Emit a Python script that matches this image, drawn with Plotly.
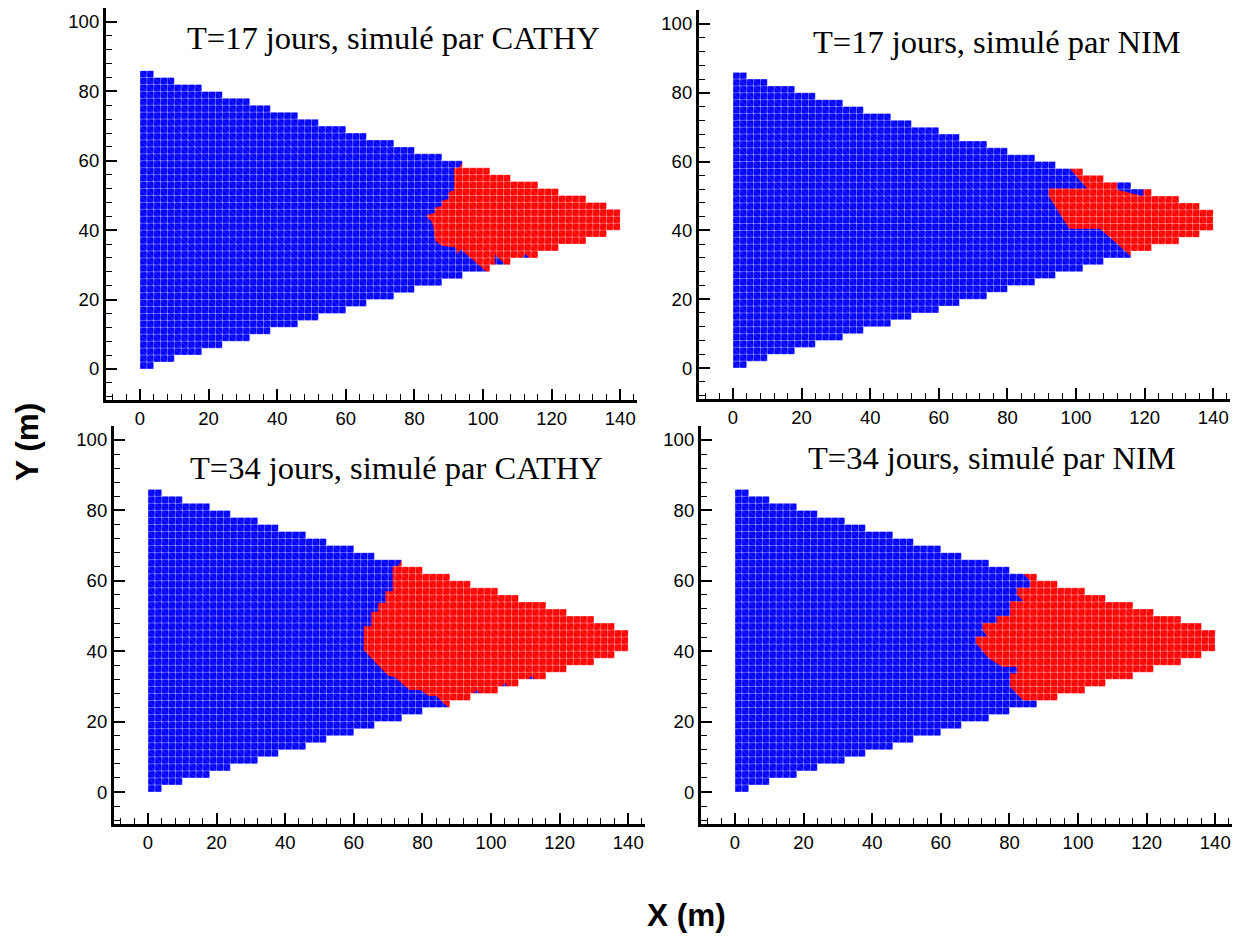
import plotly.graph_objects as go

# ---------------- data ----------------
# stepped triangular mesh (2 m cells): column edges and top / bottom levels
step_x = [0, 4, 10, 18, 24, 32, 38, 46, 52, 60, 66, 74, 80, 88, 94, 102, 108, 116, 122, 130, 136, 140]
top_y = [86, 84, 82, 80, 78, 76, 74, 72, 70, 68, 66, 64, 62, 60, 58, 56, 54, 52, 50, 48, 46]
bottom_y = [0, 2, 4, 6, 8, 10, 12, 14, 16, 18, 20, 22, 24, 26, 28, 30, 32, 34, 36, 38, 40]
cell = 2

titles = ["T=17 jours, simulé par CATHY", "T=17 jours, simulé par NIM",
          "T=34 jours, simulé par CATHY", "T=34 jours, simulé par NIM"]

# left edge (front) of the red zone, read from top to bottom
front_x = [
    [94.5, 94, 93, 91.5, 91.5, 90, 90, 88, 88, 86, 86, 84, 83.5, 85, 85.5, 86, 88, 92, 92.5, 93.5, 101, 101],
    [97.5, 98.2, 103.2, 92, 92, 98, 107, 116, 116],
    [74.5, 74, 73, 71.3, 71.3, 69.2, 69.2, 67.1, 67.1, 65.1, 65.1, 62.9, 62.9, 70, 72, 76.2, 79.5, 81.8, 84, 87.5, 87.5],
    [84.1, 84.1, 86, 86, 82.2, 82.2, 84, 80.2, 80.2, 76.3, 76.3, 72.2, 72.2, 73.5, 70.2, 70.2, 74, 77.9, 82.2, 82.2, 80.2, 80.2, 84, 88, 88],
]
front_y = [
    [62, 59.5, 58, 58, 51.5, 51, 49, 48.5, 47, 46.5, 45, 44.5, 44, 42.5, 41, 37, 35.5, 35, 33, 34.5, 28, 15],
    [61, 58, 52.2, 52.2, 50, 40.5, 40.5, 32.5, 15],
    [68, 66, 64.3, 64.1, 57, 57, 53.7, 53.7, 51.2, 51.2, 47.1, 47.1, 40.3, 33, 32.6, 29, 29, 27.3, 27.3, 24, 15],
    [65, 62, 60, 58, 58, 56.1, 54.2, 54.2, 50, 50, 48, 48, 46.1, 44.2, 44.2, 42.3, 38, 35.6, 35.6, 33.7, 33.7, 29.9, 26, 26, 15],
]
# small blue pockets left inside the red zone
pocket_x = [
    [[103.5, 103.5, 106.5], [111.5, 112.4, 113.4]],
    [[112, 112, 119.6, 119.6]],
    [[95, 95.8, 96.6], [103.2, 104, 104.8], [111, 111.8, 112.6]],
    [],
]
pocket_y = [
    [[33, 30, 30], [32, 33.2, 32]],
    [[56, 51.8, 49.9, 56]],
    [[28, 29.1, 28], [30, 31, 30], [32, 33, 32]],
    [],
]

# ---------------- layout ----------------
xr = [-10, 145]
yr = [-9, 104]
W, H = 1250, 938
OFF = 8  # page body margin
# pixel boxes of each panel in the screenshot (left, right, top, bottom)
boxes = [(105.7, 637.4, 8.1, 400.2), (698.7, 1230.4, 10.2, 399.0),
         (113.7, 645.4, 425.9, 823.7), (700.7, 1232.4, 425.9, 823.7)]
title_pos = [(73.9, 95.4), (77.0, 94.8), (72.3, 92.1), (74.8, 94.9)]

BLUE = "#0000ff"
RED = "#ff0000"


def staircase(levels):
    px, py = [], []
    for k, lv in enumerate(levels):
        px += [step_x[k], step_x[k + 1]]
        py += [lv, lv]
    return px, py


def mesh_lines():
    gx, gy, dx, dy = [], [], [], []
    xmax, ymax = step_x[-1], top_y[0]
    for i in range(0, xmax + 1, cell):
        gx += [i, i, None]
        gy += [0, ymax, None]
    for j in range(0, ymax + 1, cell):
        gx += [0, xmax, None]
        gy += [j, j, None]
    for c in range(cell, xmax + ymax, cell):
        x0 = max(0, c - ymax)
        x1 = min(xmax, c)
        dx += [x0, x1, None]
        dy += [c - x0, c - x1, None]
    return gx, gy, dx, dy


fig = go.Figure()
gx, gy, dx, dy = mesh_lines()
tx, ty = staircase(top_y)
bx, by = staircase(bottom_y)
xend = step_x[-1]

for p in range(4):
    xa = "x" if p == 0 else f"x{p + 1}"
    ya = "y" if p == 0 else f"y{p + 1}"
    common = dict(xaxis=xa, yaxis=ya, hoverinfo="skip", showlegend=False)
    # blue domain
    fig.add_trace(go.Scatter(x=[0, xend, xend, 0], y=[0, 0, top_y[0], top_y[0]],
                             fill="toself", fillcolor=BLUE, mode="lines",
                             line=dict(width=0, color=BLUE), **common))
    # red zone (closed on the right just past the domain end)
    fxs = front_x[p] + [xend + 1.5, xend + 1.5]
    fys = front_y[p] + [front_y[p][-1], front_y[p][0]]
    fig.add_trace(go.Scatter(x=fxs, y=fys, fill="toself", fillcolor=RED, mode="lines",
                             line=dict(width=0, color=RED), **common))
    for kx, ky in zip(pocket_x[p], pocket_y[p]):
        fig.add_trace(go.Scatter(x=kx, y=ky, fill="toself", fillcolor=BLUE, mode="lines",
                                 line=dict(width=0, color=BLUE), **common))
    # mesh
    fig.add_trace(go.Scatter(x=gx, y=gy, mode="lines",
                             line=dict(width=1, color="rgba(255,255,255,0.38)"), **common))
    fig.add_trace(go.Scatter(x=dx, y=dy, mode="lines",
                             line=dict(width=0.8, color="rgba(255,255,255,0.22)"), **common))
    # white masks outside the stepped domain (overlapping on the right)
    fig.add_trace(go.Scatter(x=tx + [xend, 150, 150, 0],
                             y=ty + [41, 41, 120, 120],
                             fill="toself", fillcolor="white", mode="lines",
                             line=dict(width=0, color="white"), **common))
    fig.add_trace(go.Scatter(x=bx + [xend, 150, 150, 0],
                             y=by + [45, 45, -20, -20],
                             fill="toself", fillcolor="white", mode="lines",
                             line=dict(width=0, color="white"), **common))

axis_common = dict(showline=True, linecolor="black", linewidth=2.6, mirror=False,
                   showgrid=False, zeroline=False, ticks="inside", ticklen=11,
                   tickwidth=2.4, tickcolor="black", dtick=20, tick0=0,
                   minor=dict(dtick=4, tick0=0, ticks="inside", ticklen=6,
                              tickwidth=1.4, tickcolor="black", showgrid=False),
                   tickfont=dict(family="Liberation Sans, Arial", size=18.5, color="black"))

layout = dict(width=W, height=H, margin=dict(l=0, r=0, t=0, b=0),
              paper_bgcolor="white", plot_bgcolor="white", annotations=[])
for p, (l, r, t, b) in enumerate(boxes):
    sx = "" if p == 0 else str(p + 1)
    l, r, t, b = l - OFF, r - OFF, t - OFF, b - OFF
    layout["xaxis" + sx] = dict(domain=[l / W, r / W], range=xr,
                                anchor="y" + sx, **axis_common)
    layout["yaxis" + sx] = dict(domain=[1 - b / H, 1 - t / H], range=yr,
                                anchor="x" + sx, **axis_common)
    layout["annotations"].append(dict(
        text=titles[p], x=title_pos[p][0], y=title_pos[p][1],
        xref="x" + sx, yref="y" + sx, showarrow=False,
        xanchor="center", yanchor="middle",
        font=dict(family="Liberation Serif, Times New Roman", size=32.5, color="black")))

layout["annotations"].append(dict(text="<b>Y (m)</b>", x=(27 - OFF) / W, y=1 - (442 - OFF) / H,
                                  xref="paper", yref="paper", showarrow=False,
                                  textangle=-90, xanchor="center", yanchor="middle",
                                  font=dict(family="Liberation Sans, Arial", size=31.5, color="black")))
layout["annotations"].append(dict(text="<b>X (m)</b>", x=(686 - OFF) / W, y=1 - (915 - OFF) / H,
                                  xref="paper", yref="paper", showarrow=False,
                                  xanchor="center", yanchor="middle",
                                  font=dict(family="Liberation Sans, Arial", size=31.5, color="black")))

fig.update_layout(**layout)
fig.write_html("out.html")
